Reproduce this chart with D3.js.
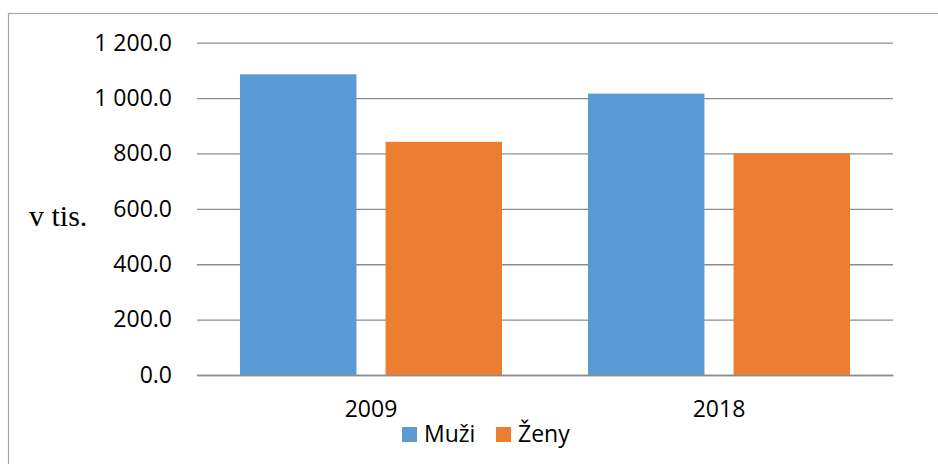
<!DOCTYPE html>
<html>
<head>
<meta charset="utf-8">
<script src="https://cdn.jsdelivr.net/npm/d3@7"></script>
<style>
    body { margin: 0; background: #fff; }
    .tick text { font-family: "Open Sans", sans-serif; }
</style>
</head>
<body>
<div id="chart"></div>
<script>
var years = ["2009", "2018"];
var seriesNames = ["Muži", "Ženy"];
var muzi = [1086, 1016];
var zeny = [842, 800];
var yTicks = [0, 200, 400, 600, 800, 1000, 1200];
var colors = ["#5B9BD5", "#ED7D31"];

var W = 938, H = 464;
var margin = {top: 42.7, right: 45, bottom: 89, left: 197};
var width = W - margin.left - margin.right;
var height = H - margin.top - margin.bottom;

var rows = years.map(function (y, i) {
    return {year: y, values: [muzi[i], zeny[i]]};
});

var svg = d3.select("#chart").append("svg")
    .attr("width", W)
    .attr("height", H);

// outer frame (top and left only visible)
svg.append("rect")
    .attr("x", 8.5)
    .attr("y", 13.5)
    .attr("width", 940)
    .attr("height", 470)
    .attr("fill", "none")
    .attr("stroke", "#a6a6a6")
    .attr("stroke-width", 1.2);

var g = svg.append("g")
    .attr("transform", "translate(" + margin.left + "," + margin.top + ")");

var x0 = d3.scaleBand()
    .domain(years)
    .range([0, width]);

var x1 = d3.scaleBand()
    .domain(seriesNames)
    .range([43, x0.bandwidth() - 43])
    .paddingInner(0.2);

var y = d3.scaleLinear()
    .domain([0, 1200])
    .range([height, 0]);

var fmt = function (d) {
    return d3.format(",.1f")(d).replace(/,/g, " ");
};

// gridlines + y labels
var yAxis = d3.axisLeft(y)
    .tickValues(yTicks)
    .tickSize(-width)
    .tickPadding(25)
    .tickFormat(fmt);

g.append("g")
    .attr("class", "y axis")
    .call(yAxis)
    .call(function (a) {
        a.select(".domain").remove();
        a.selectAll(".tick line").attr("stroke", "#8c8c8c").attr("stroke-width", 1.3);
        a.selectAll(".tick text").attr("font-size", 23).attr("fill", "#000");
    });

var layer = g.selectAll(".year")
    .data(rows)
    .enter().append("g")
    .attr("class", "year")
    .attr("transform", function (d) {
        return "translate(" + x0(d.year) + ",0)";
    });

layer.selectAll("rect")
    .data(function (d) {
        return d.values.map(function (v, i) {
            return {name: seriesNames[i], value: v, idx: i};
        });
    })
    .enter().append("rect")
    .attr("x", function (d) { return x1(d.name); })
    .attr("y", function (d) { return y(d.value); })
    .attr("width", x1.bandwidth())
    .attr("height", function (d) { return height - y(d.value); })
    .attr("fill", function (d) { return colors[d.idx]; });

// x axis
var xAxis = d3.axisBottom(x0).tickSize(0).tickPadding(26);
g.append("g")
    .attr("class", "x axis")
    .attr("transform", "translate(0," + height + ")")
    .call(xAxis)
    .call(function (a) {
        a.select(".domain").attr("stroke", "#8c8c8c").attr("stroke-width", 1.3);
        a.selectAll(".tick text").attr("font-size", 23).attr("fill", "#000");
    });

// y title
svg.append("text")
    .attr("x", 29)
    .attr("y", 226)
    .attr("font-family", "Liberation Serif, serif")
    .attr("font-size", 30)
    .attr("fill", "#000")
    .text("v tis.");

// legend
var legendX = [402, 496];
for (var index = 0; index < seriesNames.length; index++) {
    svg.append("rect")
        .attr("x", legendX[index])
        .attr("y", 427)
        .attr("width", 15)
        .attr("height", 15)
        .attr("fill", colors[index]);

    svg.append("text")
        .attr("x", legendX[index] + 22)
        .attr("y", 442)
        .attr("font-family", "Open Sans, sans-serif")
        .attr("font-size", 23)
        .attr("fill", "#000")
        .text(seriesNames[index]);
}
</script>
</body>
</html>
